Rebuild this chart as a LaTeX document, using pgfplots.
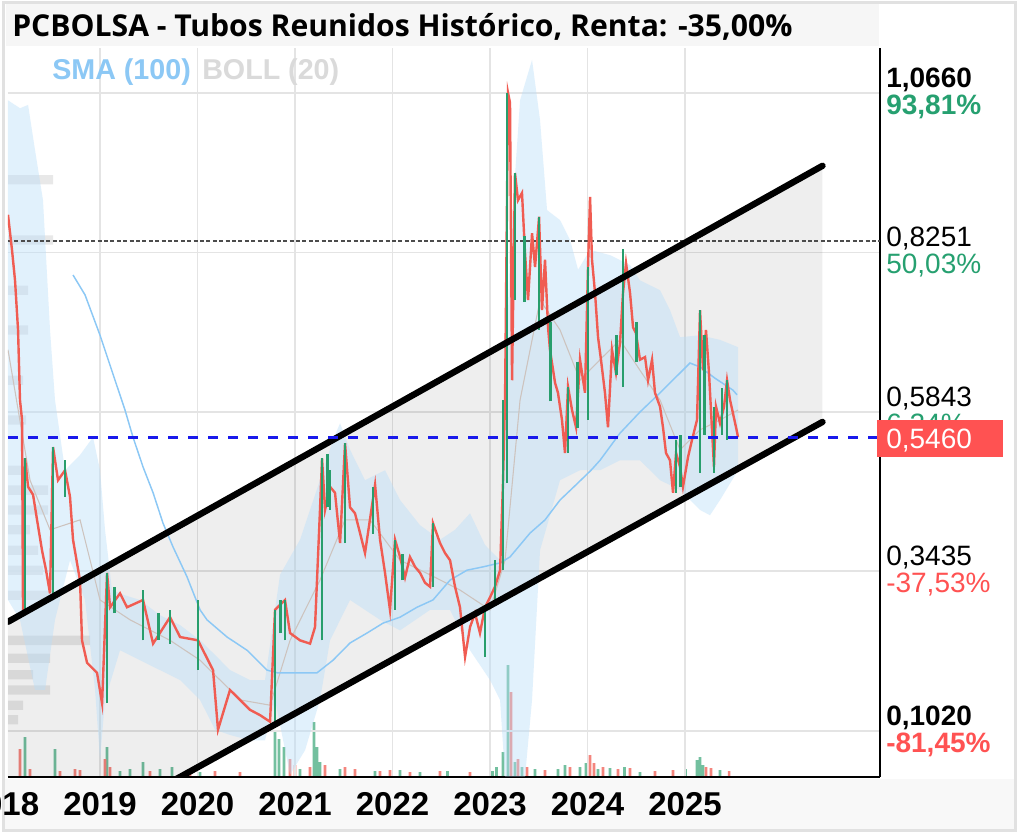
\documentclass[border=0pt]{standalone}
\usepackage{pgfplots}
\pgfplotsset{compat=1.18}
\usepackage{fontspec}
\setmainfont{Liberation Sans}
\newfontfamily\titlefam{Open Sans}

\definecolor{upgreen}{RGB}{38,160,112}
\definecolor{candlered}{RGB}{240,92,82}
\definecolor{candlegreen}{RGB}{40,158,108}
\definecolor{downred}{RGB}{255,82,82}
\definecolor{boxred}{RGB}{255,82,82}
\definecolor{smablue}{RGB}{140,200,245}
\definecolor{bandblue}{RGB}{185,222,250}
\definecolor{gridgray}{RGB}{228,228,228}
\definecolor{framegray}{RGB}{225,225,225}
\definecolor{stripgray}{RGB}{248,248,248}
\definecolor{titlegray}{RGB}{246,246,246}
\definecolor{dashblue}{RGB}{25,25,235}
\definecolor{bollgray}{RGB}{218,218,218}
\definecolor{midline}{RGB}{205,195,190}

\newcommand\yearfont{\fontsize{24.75}{28}\selectfont\bfseries}
\newcommand\labfont{\fontsize{21}{20.25}\selectfont}
\newcommand\legfont{\fontsize{21.5}{24}\selectfont\bfseries}
\newcommand\titlefont{\titlefam\fontsize{22.6}{26}\selectfont\bfseries}

\pgfplotsset{chartbox/.style={at={(6pt,42pt)}, anchor=south west, scale only axis,
    width=654pt, height=546.75pt}}

\begin{document}
\begin{tikzpicture}
\begin{scope}[x=0.75pt, y=-0.75pt, yshift=624.75pt]
\fill[white] (0,0) rectangle (1020,833);
\fill[stripgray] (4,779) rectangle (1014,829);
\fill[titlegray] (6,4) rectangle (879,46);
\draw[framegray, line width=2.25pt] (3.5,3) rectangle (1015,830);
\end{scope}

% volume
\begin{axis}[chartbox, xmin=2018.056, xmax=2027, ymin=0, ymax=729, hide axis]
  \addplot[ybar, bar width=2pt, bar shift=0pt, fill=candlegreen!65, draw=none] coordinates {
    (2018.231,40) (2018.538,28) (2019.072,30) (2019.205,6) (2019.308,8) (2019.441,15)
    (2019.615,8) (2019.738,10) (2020.026,5) (2020.795,45) (2020.836,38) (2020.887,30)
    (2021.051,8) (2021.195,55) (2021.226,30) (2021.256,15) (2021.462,8) (2021.821,6)
    (2022.077,7) (2022.282,5) (2022.564,6) (2023.026,6) (2023.067,10) (2023.133,25)
    (2023.185,112) (2023.256,15) (2023.328,10) (2023.462,8) (2023.697,8) (2023.769,12)
    (2023.923,10) (2023.985,14) (2024.108,8) (2024.231,9) (2024.380,10) (2024.538,5)
    (2025.005,8) (2025.123,17) (2025.154,20) (2025.185,12) (2025.359,7)
  };
  \addplot[ybar, bar width=2pt, bar shift=0pt, fill=candlered!75, draw=none] coordinates {
    (2018.179,28) (2018.282,8) (2018.590,6) (2018.744,8) (2018.795,7) (2019.051,18)
    (2019.103,10) (2019.513,6) (2019.923,5) (2020.179,6) (2020.436,5) (2020.949,18)
    (2021.000,12) (2021.154,10) (2021.308,12) (2021.513,10) (2021.615,8) (2021.872,6)
    (2021.974,7) (2022.179,5) (2022.487,6) (2022.795,5) (2023.215,85) (2023.287,18)
    (2023.380,10) (2023.564,7) (2023.821,10) (2024.026,22) (2024.067,14) (2024.159,10)
    (2024.313,8) (2024.436,9) (2024.692,6) (2024.877,7) (2025.215,10) (2025.267,9)
    (2025.452,6)
  };
\end{axis}

% volume profile
\begin{axis}[chartbox, xmin=0, xmax=872, ymin=0.0325, ymax=1.134, hide axis]
  \addplot[xbar, bar width=7pt, bar shift=0pt, fill=black, fill opacity=0.09, draw=none] coordinates {
    (45,0.935) (45,0.844) (20,0.768) (20,0.708) (15,0.632) (18,0.572) (20,0.496)
    (40,0.466) (40,0.436) (22,0.406) (30,0.375) (35,0.345) (45,0.307) (82,0.239)
    (42,0.212) (25,0.187) (42,0.164) (15,0.141) (10,0.119)
  };
\end{axis}

% price
\begin{axis}[chartbox,
    xmin=2018.056, xmax=2027, ymin=0.0325, ymax=1.134,
    axis x line*=bottom, axis y line*=right,
    axis line style={-, black, line width=1.4pt},
    major tick length=0pt,
    xtick={2019,2020,2021,2022,2023,2024,2025},
    xticklabels={2019,2020,2021,2022,2023,2024,2025},
    xticklabel style={font=\yearfont, inner sep=0pt, anchor=north, yshift=-11.25pt},
    ytick={0.102,0.3435,0.5843,0.8251,1.066},
    yticklabels={
      {{\bfseries 0,1020}\\{\color{downred}\bfseries -81,45\%}},
      {{0,3435}\\{\color{downred}-37,53\%}},
      {{0,5843}\\{\color{upgreen}6,24\%}},
      {{0,8251}\\{\color{upgreen}50,03\%}},
      {{\bfseries 1,0660}\\{\color{upgreen}\bfseries 93,81\%}}},
    yticklabel style={font=\labfont, align=left, anchor=west, inner sep=0pt, xshift=4.5pt},
    grid=major, grid style={gridgray, line width=1.3pt},
    unbounded coords=jump,
  ]
  % channel fill
  \addplot[draw=none, fill=black, fill opacity=0.065] coordinates {
    (2018.056,0.267) (2026.41,0.956) (2026.41,0.569) (2019.821,0.0325) (2018.056,0.0325)
  } -- cycle;
  % Bollinger band
  \addplot[draw=none, fill=bandblue, fill opacity=0.42] coordinates {
    (2018.056,1.055) (2018.179,1.043) (2018.262,1.048) (2018.333,0.980) (2018.415,0.904)
    (2018.487,0.708) (2018.538,0.602) (2018.641,0.496) (2018.795,0.519) (2018.928,0.546)
    (2019.000,0.496) (2019.051,0.406) (2019.123,0.315) (2019.256,0.307) (2019.410,0.300)
    (2019.615,0.277) (2019.821,0.262) (2020.026,0.239) (2020.179,0.217) (2020.333,0.194)
    (2020.538,0.179) (2020.692,0.179) (2020.846,0.338) (2021.051,0.391) (2021.256,0.481)
    (2021.390,0.542) (2021.462,0.567) (2021.564,0.527) (2021.718,0.481) (2021.923,0.496)
    (2022.077,0.451) (2022.282,0.413) (2022.487,0.391) (2022.641,0.406) (2022.795,0.431)
    (2022.949,0.383) (2023.103,0.360) (2023.205,0.829) (2023.308,1.055) (2023.431,1.116)
    (2023.513,1.025) (2023.585,0.889) (2023.718,0.874) (2023.821,0.844) (2023.903,0.799)
    (2024.026,0.829) (2024.231,0.821) (2024.436,0.806) (2024.538,0.783) (2024.744,0.768)
    (2024.846,0.738) (2024.949,0.697) (2025.154,0.700) (2025.359,0.693) (2025.544,0.682)
    (2025.544,0.496) (2025.359,0.451) (2025.256,0.428) (2025.154,0.436) (2024.949,0.466)
    (2024.744,0.481) (2024.538,0.511) (2024.333,0.511) (2024.128,0.496) (2023.923,0.496)
    (2023.718,0.481) (2023.513,0.375) (2023.431,0.149) (2023.359,0.033) (2023.154,0.033)
    (2023.103,0.149) (2023.000,0.179) (2022.795,0.224) (2022.590,0.285) (2022.385,0.285)
    (2022.077,0.254) (2021.872,0.270) (2021.564,0.300) (2021.359,0.239) (2021.256,0.149)
    (2021.103,0.073) (2020.949,0.036) (2020.795,0.149) (2020.692,0.088) (2020.538,0.088)
    (2020.333,0.096) (2020.179,0.104) (2020.026,0.149) (2019.821,0.179) (2019.615,0.194)
    (2019.410,0.209) (2019.205,0.224) (2019.051,0.149) (2019.000,0.058) (2018.949,0.164)
    (2018.846,0.300) (2018.692,0.360) (2018.538,0.270) (2018.436,0.164) (2018.333,0.164)
    (2018.179,0.270) (2018.056,0.300)
  } -- cycle;
  % Bollinger middle
  \addplot[midline, line width=0.8pt] coordinates {
    (2018.056,0.678) (2018.282,0.481) (2018.487,0.406) (2018.795,0.421) (2019.000,0.300)
    (2019.308,0.270) (2019.718,0.239) (2020.026,0.209) (2020.436,0.149) (2020.744,0.141)
    (2020.949,0.239) (2021.256,0.330) (2021.513,0.421) (2021.769,0.421) (2022.077,0.360)
    (2022.385,0.338) (2022.692,0.315) (2023.000,0.285) (2023.154,0.360) (2023.308,0.602)
    (2023.513,0.753) (2023.718,0.708) (2023.923,0.632) (2024.128,0.663) (2024.333,0.693)
    (2024.538,0.647) (2024.744,0.602) (2024.949,0.527) (2025.154,0.557) (2025.359,0.572)
    (2025.544,0.587)
  };
  % SMA 100
  \addplot[smablue, line width=1.1pt] coordinates {
    (2018.723,0.791) (2018.846,0.761) (2019.000,0.700) (2019.154,0.632) (2019.256,0.587)
    (2019.338,0.546) (2019.441,0.501) (2019.544,0.462) (2019.646,0.416) (2019.749,0.380)
    (2019.892,0.335) (2020.026,0.285) (2020.097,0.270) (2020.303,0.244) (2020.508,0.224)
    (2020.713,0.194) (2020.815,0.190) (2021.226,0.190) (2021.390,0.209) (2021.564,0.235)
    (2021.738,0.250) (2021.903,0.265) (2022.077,0.274) (2022.251,0.289) (2022.415,0.300)
    (2022.590,0.330) (2022.764,0.345) (2022.928,0.350) (2023.103,0.356) (2023.205,0.365)
    (2023.410,0.401) (2023.564,0.421) (2023.718,0.451) (2023.882,0.474) (2024.036,0.496)
    (2024.128,0.511) (2024.333,0.552) (2024.538,0.584) (2024.744,0.613) (2025.051,0.658)
    (2025.154,0.652) (2025.308,0.635) (2025.492,0.617) (2025.533,0.610)
  };
  % reference level
  \addplot[draw=black!70, line width=1.5pt, dash pattern=on 3pt off 1.8pt] coordinates {
    (2018.056,0.842) (2027,0.842)};
  % price
  \addplot[candlered, line width=1.8pt] coordinates {
    (2018.056,0.882) (2018.097,0.829) (2018.128,0.783) (2018.159,0.708) (2018.179,0.602)
    (2018.200,0.572) (2018.210,0.285) (2018.231,0.514) (2018.262,0.471) (2018.313,0.459)
    (2018.354,0.421) (2018.405,0.375) (2018.446,0.345) (2018.487,0.310) (2018.518,0.531)
    (2018.569,0.481) (2018.641,0.496) (2018.692,0.456) (2018.723,0.391) (2018.795,0.329)
    (2018.815,0.239) (2018.867,0.205) (2018.969,0.190) (2019.021,0.144) (2019.072,0.341)
    (2019.103,0.289) (2019.205,0.310) (2019.277,0.289) (2019.441,0.300) (2019.544,0.234)
    (2019.718,0.274) (2019.821,0.244) (2020.005,0.239) (2020.159,0.194) (2020.210,0.104)
    (2020.333,0.164) (2020.436,0.149) (2020.538,0.134) (2020.641,0.126) (2020.744,0.116)
    (2020.795,0.285) (2020.897,0.300) (2020.949,0.250) (2021.051,0.239) (2021.154,0.234)
    (2021.205,0.259) (2021.256,0.436) (2021.277,0.514) (2021.308,0.436) (2021.359,0.471)
    (2021.410,0.462) (2021.462,0.386) (2021.513,0.537) (2021.564,0.440) (2021.615,0.431)
    (2021.667,0.401) (2021.718,0.371) (2021.821,0.474) (2021.872,0.391) (2021.923,0.341)
    (2021.974,0.285) (2022.026,0.391) (2022.077,0.365) (2022.128,0.334) (2022.179,0.365)
    (2022.231,0.350) (2022.282,0.341) (2022.333,0.326) (2022.385,0.320) (2022.415,0.416)
    (2022.487,0.386) (2022.538,0.371) (2022.590,0.360) (2022.641,0.320) (2022.692,0.289)
    (2022.744,0.214) (2022.795,0.259) (2022.846,0.280) (2022.897,0.250) (2022.949,0.289)
    (2023.000,0.304) (2023.051,0.320) (2023.103,0.345) (2023.133,0.477) (2023.154,0.602)
    (2023.185,1.066) (2023.205,1.051) (2023.226,0.632) (2023.256,0.945) (2023.287,0.904)
    (2023.328,0.915) (2023.359,0.824) (2023.390,0.753) (2023.431,0.854) (2023.462,0.803)
    (2023.503,0.879) (2023.533,0.738) (2023.564,0.814) (2023.595,0.712) (2023.615,0.678)
    (2023.667,0.628) (2023.697,0.613) (2023.738,0.572) (2023.769,0.522) (2023.800,0.622)
    (2023.841,0.587) (2023.882,0.561) (2023.923,0.663) (2023.974,0.613) (2024.005,0.803)
    (2024.026,0.909) (2024.046,0.814) (2024.077,0.764) (2024.108,0.697) (2024.138,0.663)
    (2024.179,0.613) (2024.210,0.561) (2024.251,0.678) (2024.292,0.643) (2024.333,0.688)
    (2024.364,0.764) (2024.395,0.809) (2024.436,0.764) (2024.467,0.712) (2024.497,0.703)
    (2024.538,0.663) (2024.590,0.667) (2024.621,0.632) (2024.662,0.663) (2024.692,0.613)
    (2024.744,0.592) (2024.774,0.561) (2024.805,0.522) (2024.846,0.511) (2024.877,0.462)
    (2024.908,0.522) (2024.949,0.501) (2024.979,0.471) (2025.031,0.516) (2025.072,0.542)
    (2025.123,0.572) (2025.154,0.738) (2025.185,0.647) (2025.215,0.708) (2025.246,0.643)
    (2025.277,0.557) (2025.297,0.501) (2025.318,0.592) (2025.359,0.567) (2025.400,0.592)
    (2025.431,0.632) (2025.462,0.602) (2025.492,0.582) (2025.523,0.561) (2025.544,0.546)
  };
  % rising candles
  \addplot[candlegreen, line width=2.1pt] coordinates {
    (2018.231,0.285) (2018.231,0.514) (2018.231,nan)
    (2018.518,0.310) (2018.518,0.531) (2018.518,nan)
    (2018.641,0.456) (2018.641,0.511) (2018.641,nan)
    (2019.072,0.144) (2019.072,0.341) (2019.072,nan)
    (2019.150,0.280) (2019.150,0.320) (2019.150,nan)
    (2019.441,0.239) (2019.441,0.315) (2019.441,nan)
    (2019.600,0.240) (2019.600,0.280) (2019.600,nan)
    (2019.718,0.234) (2019.718,0.285) (2019.718,nan)
    (2020.005,0.194) (2020.005,0.300) (2020.005,nan)
    (2020.795,0.111) (2020.795,0.285) (2020.795,nan)
    (2020.850,0.250) (2020.850,0.300) (2020.850,nan)
    (2020.897,0.239) (2020.897,0.300) (2020.897,nan)
    (2021.277,0.239) (2021.277,0.514) (2021.277,nan)
    (2021.330,0.440) (2021.330,0.520) (2021.330,nan)
    (2021.359,0.436) (2021.359,0.496) (2021.359,nan)
    (2021.513,0.386) (2021.513,0.537) (2021.513,nan)
    (2021.800,0.400) (2021.800,0.470) (2021.800,nan)
    (2022.026,0.285) (2022.026,0.391) (2022.026,nan)
    (2022.100,0.330) (2022.100,0.370) (2022.100,nan)
    (2022.415,0.320) (2022.415,0.416) (2022.415,nan)
    (2022.949,0.214) (2022.949,0.289) (2022.949,nan)
    (2023.051,0.300) (2023.051,0.360) (2023.051,nan)
    (2023.133,0.345) (2023.133,0.602) (2023.133,nan)
    (2023.175,0.477) (2023.175,1.066) (2023.175,nan)
    (2023.256,0.753) (2023.256,0.945) (2023.256,nan)
    (2023.350,0.750) (2023.350,0.850) (2023.350,nan)
    (2023.503,0.708) (2023.503,0.879) (2023.503,nan)
    (2023.620,0.600) (2023.620,0.720) (2023.620,nan)
    (2023.800,0.522) (2023.800,0.622) (2023.800,nan)
    (2023.900,0.560) (2023.900,0.660) (2023.900,nan)
    (2024.005,0.572) (2024.005,0.803) (2024.005,nan)
    (2024.300,0.640) (2024.300,0.700) (2024.300,nan)
    (2024.364,0.622) (2024.364,0.830) (2024.364,nan)
    (2024.500,0.660) (2024.500,0.720) (2024.500,nan)
    (2024.908,0.462) (2024.908,0.542) (2024.908,nan)
    (2024.950,0.470) (2024.950,0.550) (2024.950,nan)
    (2025.154,0.492) (2025.154,0.738) (2025.154,nan)
    (2025.200,0.550) (2025.200,0.700) (2025.200,nan)
    (2025.297,0.492) (2025.297,0.592) (2025.297,nan)
    (2025.380,0.550) (2025.380,0.620) (2025.380,nan)
    (2025.431,0.542) (2025.431,0.632)
  };
  % channel
  \addplot[black, line width=4.8pt, line cap=round] coordinates {(2018.056,0.267) (2026.41,0.956)};
  \addplot[black, line width=4.8pt, line cap=round] coordinates {(2019.7,0.0227) (2026.41,0.569)};
  % last price
  \addplot[dashblue, line width=2.2pt, dash pattern=on 7.5pt off 7.5pt] coordinates {
    (2018.056,0.546) (2027,0.546)};
\end{axis}

\begin{scope}[x=0.75pt, y=-0.75pt, yshift=624.75pt]
\node[anchor=north, inner sep=0pt, font=\yearfont] at (2.5,792) {2018};
\node[anchor=base west, inner sep=0pt, font=\legfont, text=smablue] at (52,80) {SMA (100)};
\node[anchor=base west, inner sep=0pt, font=\legfont, text=bollgray] at (202,80) {BOLL (20)};
\node[anchor=base west, inner sep=0pt, font=\titlefont] at (12,37) {PCBOLSA - Tubos Reunidos Histórico, Renta: -35,00\%};
\fill[boxred] (877,420) rectangle (1003,457);
\node[anchor=base west, inner sep=0pt, font=\labfont, text=white] at (886,448) {0,5460};
\end{scope}
\pgfresetboundingbox
\path[use as bounding box] (0,0) rectangle (765pt,624.75pt);
\end{tikzpicture}
\end{document}
